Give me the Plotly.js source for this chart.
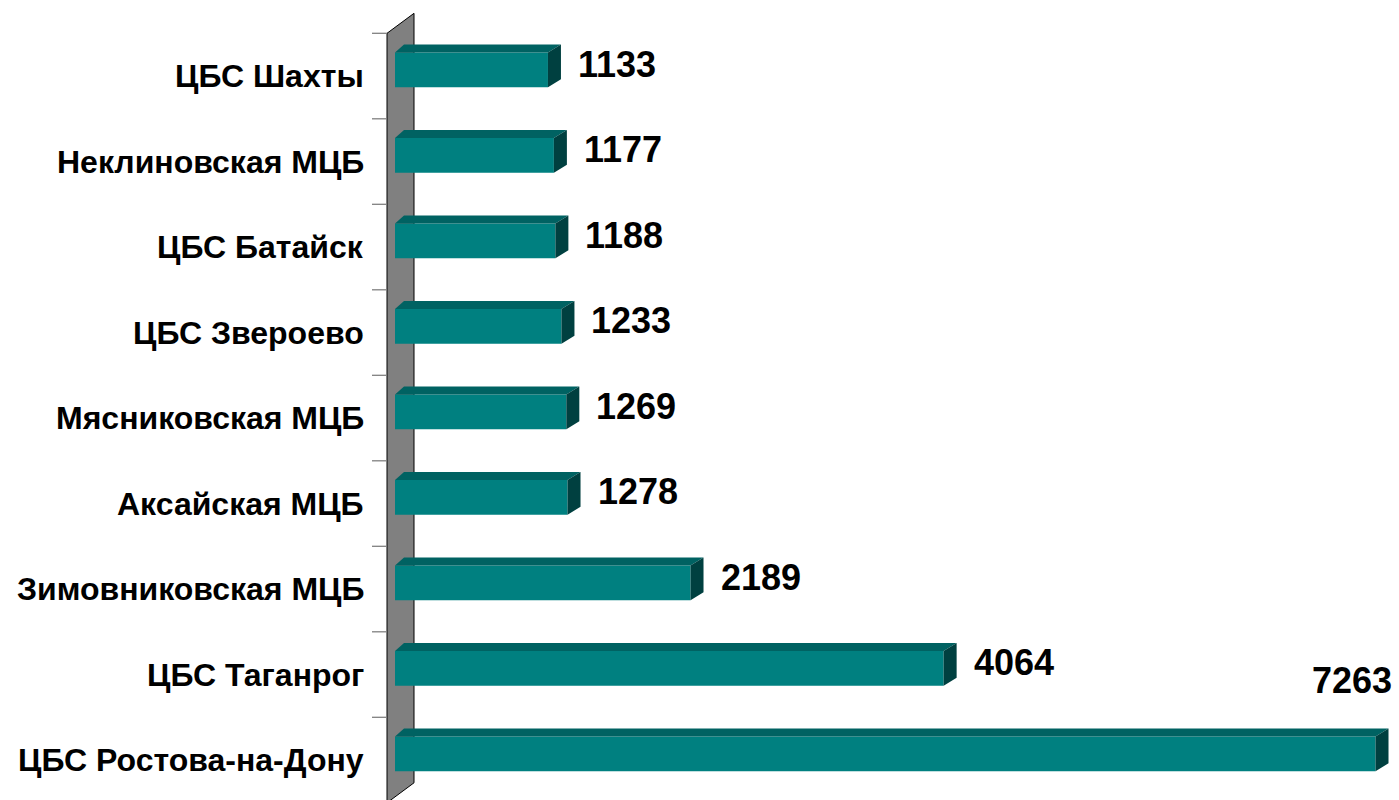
<!DOCTYPE html>
<html>
<head>
<meta charset="utf-8">
<script src="https://cdn.plot.ly/plotly-3.0.1.min.js"></script>
<style>html,body{margin:0;padding:0;background:#fff;}#chart{width:1399px;height:800px;}</style>
</head>
<body>
<div id="chart"></div>
<script>
// ---- data ----
const categories = ['ЦБС Шахты','Неклиновская МЦБ','ЦБС Батайск','ЦБС Звероево','Мясниковская МЦБ','Аксайская МЦБ','Зимовниковская МЦБ','ЦБС Таганрог','ЦБС Ростова-на-Дону'];
const values = [1133,1177,1188,1233,1269,1278,2189,4064,7263];

// ---- geometry / style constants ----
const W = 1399, H = 800;
const ML = 300;                 // left margin (px)
const KX = 0.135;               // px per value unit
const X0PX = 395;               // pixel of value 0
const XMIN = -(X0PX - ML) / KX;
const XMAX = XMIN + (W - ML) / KX;
const KY = 85.5;                // px per category
const YMAX = 8 + 76.05 / KY;
const YMIN = YMAX - H / KY;
const px2x = p => p / KX;       // pixel offset -> x units
const px2y = p => p / KY;       // pixel offset -> y units

const FRONT_TOP = px2y(23.5), FRONT_BOT = px2y(11.2);
const DEPTH_Y = px2y(8), DEPTH_XL = px2x(9), DEPTH_XR = px2x(13);
const WALL_FRONT = px2x(387 - X0PX), WALL_BACK = px2x(414 - X0PX);
const WALL_DY = px2y(20);

const n = categories.length;
const ypos = categories.map((c, i) => n - 1 - i);

const FRONT_COL = '#008080', TOP_COL = '#006262', SIDE_COL = '#004040';
const FONT = 'Liberation Sans, Arial, sans-serif';

const shapes = [];
// wall
const wTop = n - 0.5, wBot = -0.5;
shapes.push({
  type: 'path', xref: 'x', yref: 'y', layer: 'below',
  path: `M ${WALL_FRONT},${wTop} L ${WALL_BACK},${wTop + WALL_DY} L ${WALL_BACK},${wBot + WALL_DY} L ${WALL_FRONT},${wBot} Z`,
  fillcolor: '#808080', line: {color: '#000000', width: 1}
});
// tick marks at category boundaries
for (let j = 0; j <= n; j++) {
  const yb = j - 0.5;
  shapes.push({
    type: 'line', xref: 'x', yref: 'y', layer: 'below',
    x0: WALL_FRONT - px2x(15), x1: WALL_FRONT, y0: yb, y1: yb,
    line: {color: '#808080', width: 1.3}
  });
}
// 3D faces of bars
values.forEach((v, i) => {
  const y = ypos[i];
  const t = y + FRONT_TOP, b = y - FRONT_BOT;
  shapes.push({
    type: 'path', xref: 'x', yref: 'y', layer: 'above',
    path: `M 0,${t} L ${DEPTH_XL},${t + DEPTH_Y} L ${v + DEPTH_XR},${t + DEPTH_Y} L ${v},${t} Z`,
    fillcolor: TOP_COL, line: {width: 0}
  });
  shapes.push({
    type: 'path', xref: 'x', yref: 'y', layer: 'above',
    path: `M ${v},${t} L ${v + DEPTH_XR},${t + DEPTH_Y} L ${v + DEPTH_XR},${b + DEPTH_Y} L ${v},${b} Z`,
    fillcolor: SIDE_COL, line: {width: 0}
  });
});

const annotations = [];
// category labels
categories.forEach((c, i) => {
  annotations.push({
    xref: 'x', yref: 'y', x: px2x(366 - X0PX), y: ypos[i],
    xanchor: 'right', yanchor: 'middle', showarrow: false,
    text: '<b>' + c + '</b>',
    font: {family: FONT, size: 32, color: '#000'}
  });
});
// value labels
const VAL_SIZE = 36;
values.forEach((v, i) => {
  const txt = String(v);
  const estW = txt.length * 0.556 * VAL_SIZE;
  const endPx = X0PX + v * KX + 30 + estW;
  if (endPx <= W - 4) {
    annotations.push({
      xref: 'x', yref: 'y', x: v, y: ypos[i], xshift: 28, yshift: 12,
      xanchor: 'left', yanchor: 'middle', showarrow: false,
      text: '<b>' + txt + '</b>',
      font: {family: FONT, size: VAL_SIZE, color: '#000'}
    });
  } else {
    annotations.push({
      xref: 'x', yref: 'y', x: XMAX, y: ypos[i], xshift: -5, yshift: 80,
      xanchor: 'right', yanchor: 'middle', showarrow: false,
      text: '<b>' + txt + '</b>',
      font: {family: FONT, size: VAL_SIZE, color: '#000'}
    });
  }
});

const trace = {
  type: 'bar', orientation: 'h',
  x: values, y: ypos,
  base: 0, width: FRONT_TOP + FRONT_BOT, offset: -FRONT_BOT,
  marker: {color: FRONT_COL, line: {width: 0}},
  hoverinfo: 'skip'
};

const layout = {
  width: W, height: H,
  margin: {l: ML, r: 0, t: 0, b: 0, pad: 0},
  paper_bgcolor: '#ffffff', plot_bgcolor: 'rgba(0,0,0,0)',
  showlegend: false,
  xaxis: {range: [XMIN, XMAX], visible: false, fixedrange: true},
  yaxis: {range: [YMIN, YMAX], visible: false, fixedrange: true},
  shapes: shapes,
  annotations: annotations
};

Plotly.newPlot('chart', [trace], layout, {displayModeBar: false, staticPlot: true});
</script>
</body>
</html>
